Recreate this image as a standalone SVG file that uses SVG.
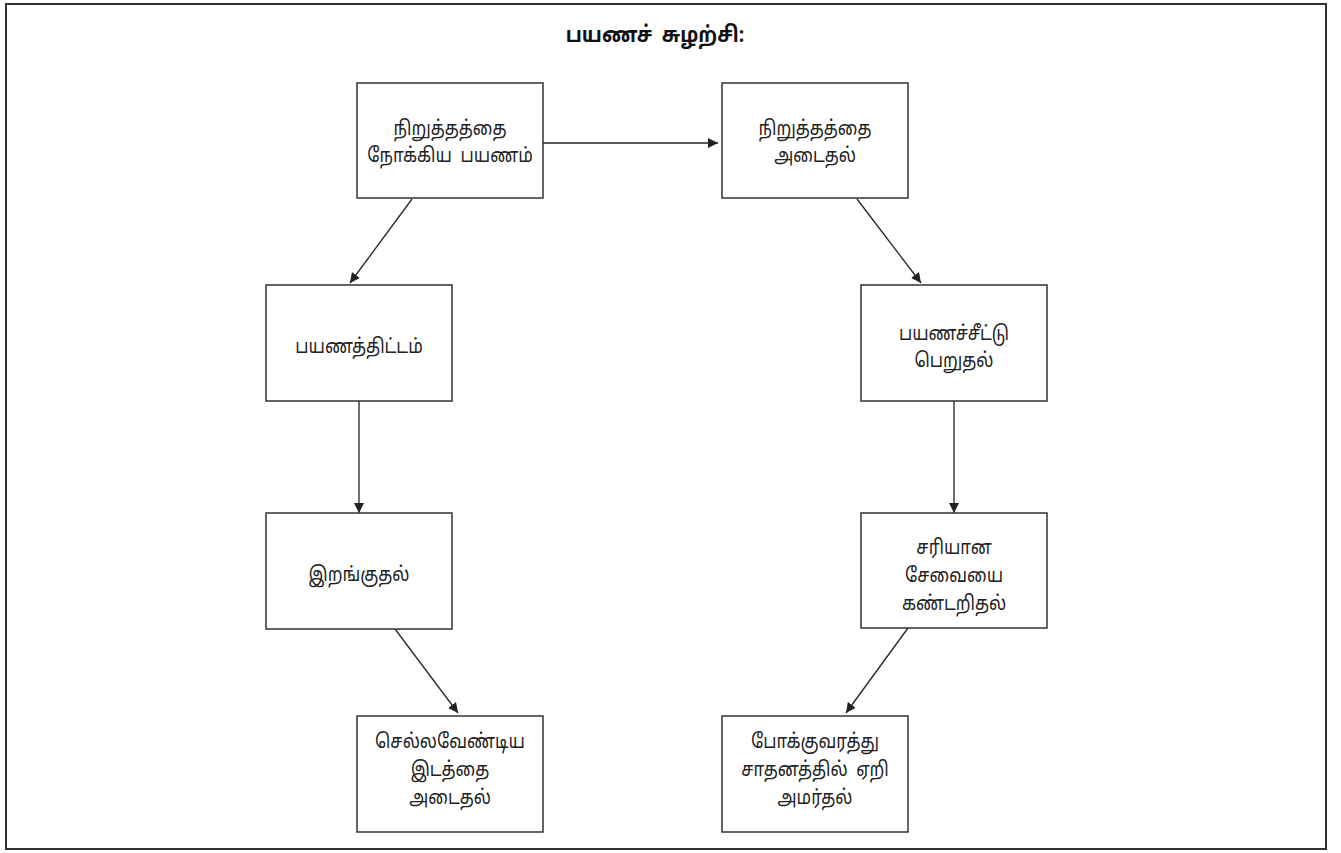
<svg xmlns="http://www.w3.org/2000/svg" width="1341" height="853" viewBox="0 0 1341 853">
<defs>
<marker id="ah" viewBox="0 0 10 10" refX="10" refY="5" markerWidth="10" markerHeight="10" markerUnits="userSpaceOnUse" orient="auto">
<path d="M0,0 L10,5 L0,10 z" fill="#222"/>
</marker>
<style>
.box{fill:#fff;stroke:#333;stroke-width:1.5}
.lbl{font-family:"Noto Sans Tamil","Lohit Tamil","Noto Sans","DejaVu Sans",sans-serif;font-size:20px;fill:#222;text-anchor:middle;word-spacing:5px}
.ttl{font-family:"Noto Sans Tamil","Lohit Tamil","Noto Sans","DejaVu Sans",sans-serif;font-size:22px;font-weight:bold;fill:#111;text-anchor:middle;word-spacing:5px}
.edge{stroke:#222;stroke-width:1.3;fill:none;marker-end:url(#ah)}
</style>
</defs>
<rect x="0" y="0" width="1341" height="853" fill="#fff"/>
<rect x="6" y="4" width="1320" height="845" fill="none" stroke="#333" stroke-width="2"/>
<g transform="translate(655,0) scale(0.88,1)"><text class="ttl" x="0" y="42">பயணச் சுழற்சி:</text></g>
<g id="connectors">
<line class="edge" x1="543" y1="143" x2="718" y2="143"/>
<line class="edge" x1="412" y1="199" x2="350" y2="283"/>
<line class="edge" x1="857" y1="199" x2="921" y2="283"/>
<line class="edge" x1="359" y1="401" x2="359" y2="513"/>
<line class="edge" x1="954" y1="401" x2="954" y2="513"/>
<line class="edge" x1="395" y1="629" x2="458" y2="713"/>
<line class="edge" x1="908" y1="628" x2="846" y2="713"/>
</g>
<g id="n1"><rect class="box" x="357" y="83" width="186" height="115"/>
<g transform="translate(450,0) scale(0.85,1)"><text class="lbl" x="0" y="135">நிறுத்தத்தை</text><text class="lbl" x="0" y="162">நோக்கிய பயணம்</text></g></g>
<g id="n2"><rect class="box" x="722" y="83" width="186" height="115"/>
<g transform="translate(815,0) scale(0.85,1)"><text class="lbl" x="0" y="135">நிறுத்தத்தை</text><text class="lbl" x="0" y="162">அடைதல்</text></g></g>
<g id="n3"><rect class="box" x="266" y="285" width="186" height="116"/>
<g transform="translate(359,0) scale(0.85,1)"><text class="lbl" x="0" y="353">பயணத்திட்டம்</text></g></g>
<g id="n4"><rect class="box" x="861" y="285" width="186" height="116"/>
<g transform="translate(954,0) scale(0.85,1)"><text class="lbl" x="0" y="340">பயணச்சீட்டு</text><text class="lbl" x="0" y="367">பெறுதல்</text></g></g>
<g id="n5"><rect class="box" x="266" y="513" width="186" height="116"/>
<g transform="translate(359,0) scale(0.85,1)"><text class="lbl" x="0" y="581">இறங்குதல்</text></g></g>
<g id="n6"><rect class="box" x="861" y="513" width="186" height="115"/>
<g transform="translate(954,0) scale(0.85,1)"><text class="lbl" x="0" y="554">சரியான</text><text class="lbl" x="0" y="582">சேவையை</text><text class="lbl" x="0" y="610">கண்டறிதல்</text></g></g>
<g id="n7"><rect class="box" x="357" y="716" width="186" height="116"/>
<g transform="translate(450,0) scale(0.85,1)"><text class="lbl" x="0" y="748">செல்லவேண்டிய</text><text class="lbl" x="0" y="776">இடத்தை</text><text class="lbl" x="0" y="804">அடைதல்</text></g></g>
<g id="n8"><rect class="box" x="722" y="716" width="186" height="116"/>
<g transform="translate(815,0) scale(0.85,1)"><text class="lbl" x="0" y="748">போக்குவரத்து</text><text class="lbl" x="0" y="776">சாதனத்தில் ஏறி</text><text class="lbl" x="0" y="804">அமர்தல்</text></g></g>
</svg>
